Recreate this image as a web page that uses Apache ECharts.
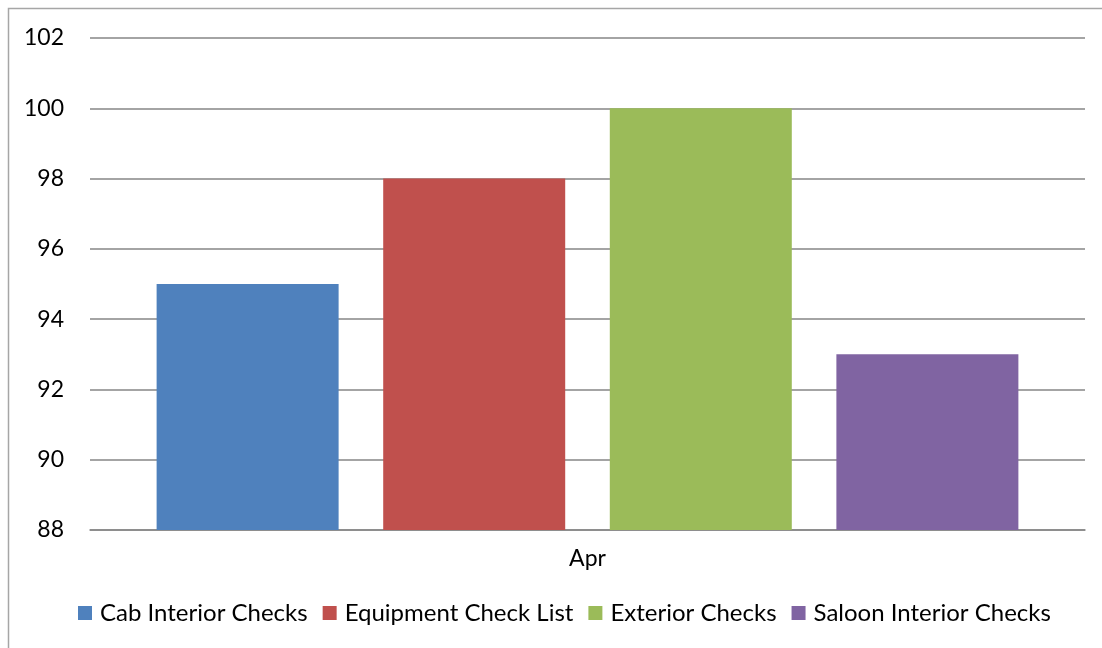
<!DOCTYPE html>
<html>
<head>
<meta charset="utf-8">
<script src="https://cdn.jsdelivr.net/npm/echarts@6/dist/echarts.min.js"></script>
<style>
  html, body { margin: 0; padding: 0; background: #fff; }
  #chart { width: 1102px; height: 648px; }
</style>
</head>
<body>
<div id="chart"></div>
<script>
var categories = ['Apr']
var seriesNames = ['Cab Interior Checks', 'Equipment Check List', 'Exterior Checks', 'Saloon Interior Checks']
var cabInterior = [95]
var equipment = [98]
var exterior = [100]
var saloonInterior = [93]
var colors = ['#4f81bd', '#c0504d', '#9bbb59', '#8064a2']

var chart = echarts.init(document.getElementById('chart'))
var font = 'Lato, "Open Sans", sans-serif'

chart.setOption({
  backgroundColor: '#fff',
  color: colors,
  animation: false,
  textStyle: { fontFamily: font },
  graphic: [{
    type: 'rect',
    shape: { x: 8.5, y: 8.5, width: 1200, height: 800 },
    style: { fill: 'none', stroke: '#a6a6a6', lineWidth: 1.5 },
    silent: true
  }],
  legend: {
    bottom: 18,
    left: 73,
    icon: 'rect',
    itemWidth: 14,
    itemHeight: 14,
    itemGap: 15,
    textStyle: { fontSize: 24, color: '#000', fontFamily: font, padding: [0, 0, 0, 3] },
    data: seriesNames
  },
  grid: {
    left: 90,
    right: 17,
    top: 38,
    bottom: 118
  },
  xAxis: {
    type: 'category',
    data: categories,
    axisTick: { show: false },
    axisLine: { lineStyle: { color: '#868686', width: 1.5 } },
    axisLabel: { fontSize: 23, color: '#000', margin: 17, fontFamily: font }
  },
  yAxis: {
    type: 'value',
    min: 88,
    max: 102,
    interval: 2,
    axisLine: { show: false },
    axisTick: { show: false },
    axisLabel: { fontSize: 23, color: '#000', margin: 26, fontFamily: font },
    splitLine: { lineStyle: { color: '#868686', width: 1.5 } }
  },
  series: [
    { name: seriesNames[0], type: 'bar', data: cabInterior, barWidth: 182, barGap: '24.5%' },
    { name: seriesNames[1], type: 'bar', data: equipment, barWidth: 182, barGap: '24.5%' },
    { name: seriesNames[2], type: 'bar', data: exterior, barWidth: 182, barGap: '24.5%' },
    { name: seriesNames[3], type: 'bar', data: saloonInterior, barWidth: 182, barGap: '24.5%' }
  ]
})
</script>
</body>
</html>
